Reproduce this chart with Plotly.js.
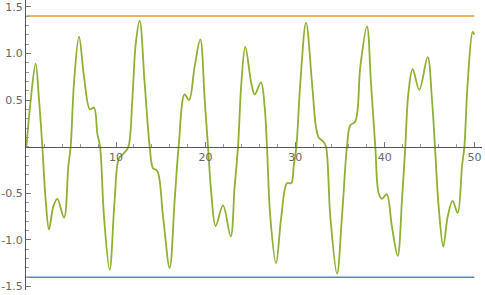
<!DOCTYPE html>
<html>
<head>
<meta charset="utf-8">
<script src="https://cdn.plot.ly/plotly-3.0.1.min.js"></script>
<style>html,body{margin:0;padding:0;background:#fff;}#chart{width:485px;height:295px;}</style>
</head>
<body>
<div id="chart"></div>
<script>
// curve values (x, y)
const curveX = [0, 0.48, 1.03, 1.41, 1.78, 2.15, 2.52, 3.01, 3.45, 4.2, 4.68, 4.94, 5.31, 5.87, 6.43, 7.1, 7.54, 7.92, 8.22, 8.66, 9.29, 9.85, 10.33, 10.89, 11.38, 11.82, 12.2, 12.64, 13.2, 13.76, 14.13, 14.61, 15.25, 15.99, 16.55, 16.99, 17.66, 18.15, 18.78, 19.41, 19.9, 20.27, 20.64, 21.12, 21.94, 22.8, 23.24, 23.62, 23.99, 24.43, 25.1, 25.48, 26.18, 26.59, 26.85, 27.22, 27.86, 28.45, 29.09, 29.57, 29.83, 30.13, 30.57, 31.21, 31.88, 32.32, 32.62, 33.18, 33.44, 33.92, 34.67, 35.22, 35.78, 36.15, 36.71, 37.27, 38.01, 38.46, 38.94, 39.32, 39.69, 40.21, 40.8, 41.44, 41.92, 42.29, 42.63, 43.11, 43.85, 44.78, 45.27, 45.6, 46.01, 46.53, 47.02, 47.57, 48.13, 48.62, 48.88, 49.25, 49.81, 50];
const curveY = [0, 0.5, 0.89, 0.5, 0, -0.57, -0.886, -0.64, -0.56, -0.76, -0.21, 0, 0.68, 1.18, 0.75, 0.4, 0.42, 0.14, 0, -0.75, -1.32, -0.57, -0.125, -0.07, 0, 0.5, 1.1, 1.35, 0.68, 0, -0.23, -0.26, -0.75, -1.30, -0.57, 0, 0.56, 0.5, 0.86, 1.15, 0.5, 0, -0.5, -0.85, -0.63, -0.96, -0.43, 0, 0.68, 1.07, 0.68, 0.56, 0.69, 0.43, 0, -0.75, -1.25, -0.75, -0.39, -0.39, -0.21, 0, 0.68, 1.33, 0.68, 0.21, 0.1, 0.05, 0, -0.75, -1.36, -0.75, 0, 0.23, 0.27, 0.86, 1.29, 0.68, 0, -0.5, -0.56, -0.51, -0.86, -1.17, -0.57, 0, 0.57, 0.83, 0.61, 0.96, 0.5, 0, -0.64, -1.07, -0.75, -0.58, -0.71, -0.21, 0, 0.68, 1.23, 1.2];
const boundX = [0, 50];
const lowerY = [-1.4, -1.4];
const upperY = [1.4, 1.4];
const xTicks = [10, 20, 30, 40, 50];
const yTicks = [-1.5, -1.0, -0.5, 0.5, 1.0, 1.5];
const yTickText = ["-1.5", "-1.0", "-0.5", "0.5", "1.0", "1.5"];

const traces = [
  {x: boundX, y: lowerY, mode: 'lines', line: {color: '#5E81B5', width: 1.6}, hoverinfo: 'skip'},
  {x: boundX, y: upperY, mode: 'lines', line: {color: '#E19C24', width: 1.6}, hoverinfo: 'skip'},
  {x: curveX, y: curveY, mode: 'lines', line: {color: '#8FB032', width: 1.8, shape: 'spline', smoothing: 1}, hoverinfo: 'skip'}
];
const xr = [-0.045, 50.85];
const yr = [-1.536, 1.572];
const layout = {
  width: 485, height: 295,
  margin: {l: 26, r: 3, t: 0, b: 5},
  showlegend: false,
  paper_bgcolor: '#fff', plot_bgcolor: '#fff',
  xaxis: {
    range: xr, showgrid: false, zeroline: false,
    anchor: 'free', position: (0 - yr[0]) / (yr[1] - yr[0]),
    showline: true, linecolor: '#555', linewidth: 1,
    tickmode: 'array', tickvals: xTicks, ticktext: xTicks.map(String),
    ticks: 'inside', ticklen: 5, tickcolor: '#777', tickwidth: 1,
    minor: {dtick: 2, tick0: 0, ticks: 'inside', ticklen: 3, tickcolor: '#999', showgrid: false},
    tickfont: {family: 'DejaVu Sans, sans-serif', size: 11, color: '#666'}
  },
  yaxis: {
    range: yr, showgrid: false, zeroline: false,
    showline: true, linecolor: '#555', linewidth: 1,
    tickmode: 'array', tickvals: yTicks, ticktext: yTickText,
    ticks: 'inside', ticklen: 5, tickcolor: '#777', tickwidth: 1,
    minor: {dtick: 0.1, tick0: 0, ticks: 'inside', ticklen: 3, tickcolor: '#999', showgrid: false},
    tickfont: {family: 'DejaVu Sans, sans-serif', size: 11, color: '#666'}
  }
};
Plotly.newPlot('chart', traces, layout, {staticPlot: true, displayModeBar: false});
</script>
</body>
</html>
